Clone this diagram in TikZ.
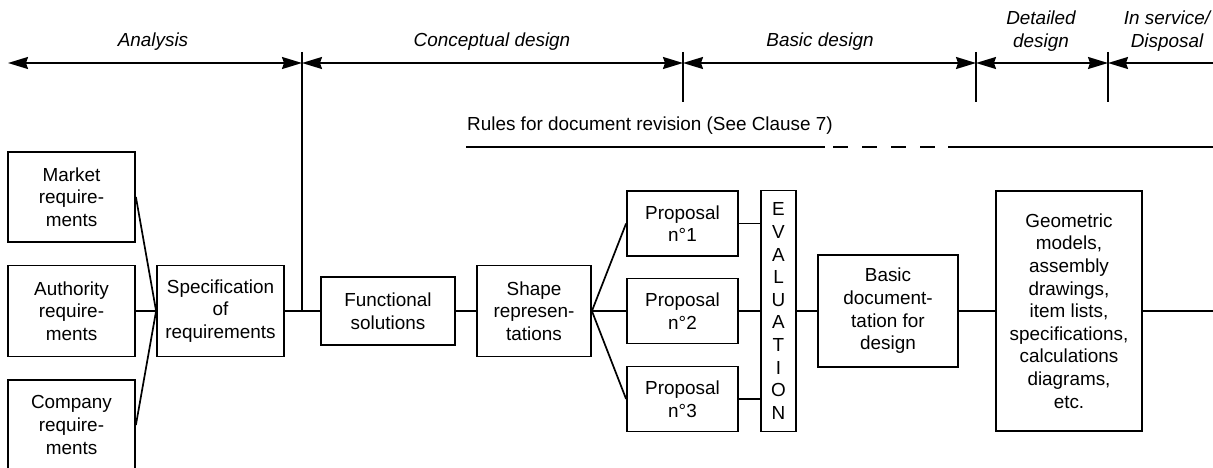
\documentclass[tikz,border=0pt]{standalone}
\usepackage{fontspec}
\setmainfont{Liberation Sans}
\usetikzlibrary{arrows.meta}
\begin{document}
\begin{tikzpicture}[x=1pt,y=-1pt,
  every node/.style={font=\fontsize{18.9}{22.6}\selectfont, inner sep=0pt},
  box/.style={draw, line width=1.8pt, align=center},
  conn/.style={line width=1.7pt},
  phase/.style={line width=1.7pt, >={Stealth[length=20pt,width=12pt,inset=2pt]}},
  lbl/.style={font=\fontsize{18.9}{22.6}\selectfont\itshape, align=center}]
\useasboundingbox (0,0) rectangle (1213,468);

% header ticks and phases
\coordinate (a0) at (8,63);
\coordinate (a1) at (302,63);
\coordinate (a2) at (683,63);
\coordinate (a3) at (976,63);
\coordinate (a4) at (1108,63);
\coordinate (a5) at (1216,63);
\coordinate (k1) at (302,52);
\coordinate (k2) at (683,52);
\coordinate (k3) at (976,52);
\coordinate (k4) at (1108,52);
\coordinate (e2) at (683,102);
\coordinate (e3) at (976,102);
\coordinate (e4) at (1108,102);

\draw[phase, <->] (a0) -- (a1);
\draw[phase, <->] (a1) -- (a2);
\draw[phase, <->] (a2) -- (a3);
\draw[phase, <->] (a3) -- (a4);
\draw[phase, <-] (a4) -- (a5);
\draw[phase] (k2) -- (e2);
\draw[phase] (k3) -- (e3);
\draw[phase] (k4) -- (e4);

\node[lbl] (l1) at (153,42) {Analysis};
\node[lbl] (l2) at (492,42) {Conceptual design};
\node[lbl] (l3) at (820,42) {Basic design};
\node[lbl] (l4) at (1041,31) {Detailed\\design};
\node[lbl] (l5) at (1167,31) {In service/\\Disposal};

% rules line
\node[anchor=west] (rules) at (467,126) {Rules for document revision (See Clause 7)};
\coordinate (r0) at (466,147);
\coordinate (r1) at (825,147);
\coordinate (r2) at (833,147);
\coordinate (r3) at (935,147);
\coordinate (r4) at (948,147);
\coordinate (r5) at (1216,147);
\draw[conn] (r0) -- (r1);
\draw[conn, dash pattern=on 15pt off 14pt] (r2) -- (r3);
\draw[conn] (r4) -- (r5);

% boxes
\node[box, minimum width=127pt, minimum height=90pt] (market) at (71.5,197) {Market\\require-\\ments};
\node[box, minimum width=127pt, minimum height=91pt] (auth) at (71.5,311) {Authority\\require-\\ments};
\node[box, minimum width=127pt, minimum height=90pt] (comp) at (71.5,425) {Company\\require-\\ments};
\node[box, minimum width=127pt, minimum height=91pt] (spec) at (220.5,311) {Specification\\of\\requirements};
\node[box, minimum width=134pt, minimum height=68pt] (func) at (388,311) {Functional\\solutions};
\node[box, minimum width=114pt, minimum height=91pt] (shape) at (534,311) {Shape\\represen-\\tations};
\node[box, minimum width=111pt, minimum height=65pt] (p1) at (682.5,223.5) {Proposal\\n°1};
\node[box, minimum width=111pt, minimum height=65pt] (p2) at (682.5,311) {Proposal\\n°2};
\node[box, minimum width=111pt, minimum height=65pt] (p3) at (682.5,399) {Proposal\\n°3};
\node[box, minimum width=35pt, minimum height=241pt] (eval) at (778.5,311) {E\\V\\A\\L\\U\\A\\T\\I\\O\\N};
\node[box, minimum width=140pt, minimum height=112pt] (basic) at (888,311) {Basic\\document-\\tation for\\design};
\node[box, minimum width=146pt, minimum height=240pt] (geo) at (1069,311) {Geometric\\models,\\assembly\\drawings,\\item lists,\\specifications,\\calculations\\diagrams,\\etc.};
\coordinate (out) at (1216,311);

% connectors
\draw[conn] (market.east) -- (spec.west);
\draw[conn] (auth.east) -- (spec.west);
\draw[conn] (comp.east) -- (spec.west);
\draw[conn] (spec.east) -- (func.west);
\draw[conn] (k1) -- (k1 |- spec.east);
\draw[conn] (func.east) -- (shape.west);
\draw[conn] (shape.east) -- (p1.west);
\draw[conn] (shape.east) -- (p2.west);
\draw[conn] (shape.east) -- (p3.west);
\draw[conn] (p1.east) -- (p1.east -| eval.west);
\draw[conn] (p2.east) -- (eval.west);
\draw[conn] (p3.east) -- (p3.east -| eval.west);
\draw[conn] (eval.east) -- (basic.west);
\draw[conn] (basic.east) -- (geo.west);
\draw[conn] (geo.east) -- (out);
\end{tikzpicture}
\end{document}
